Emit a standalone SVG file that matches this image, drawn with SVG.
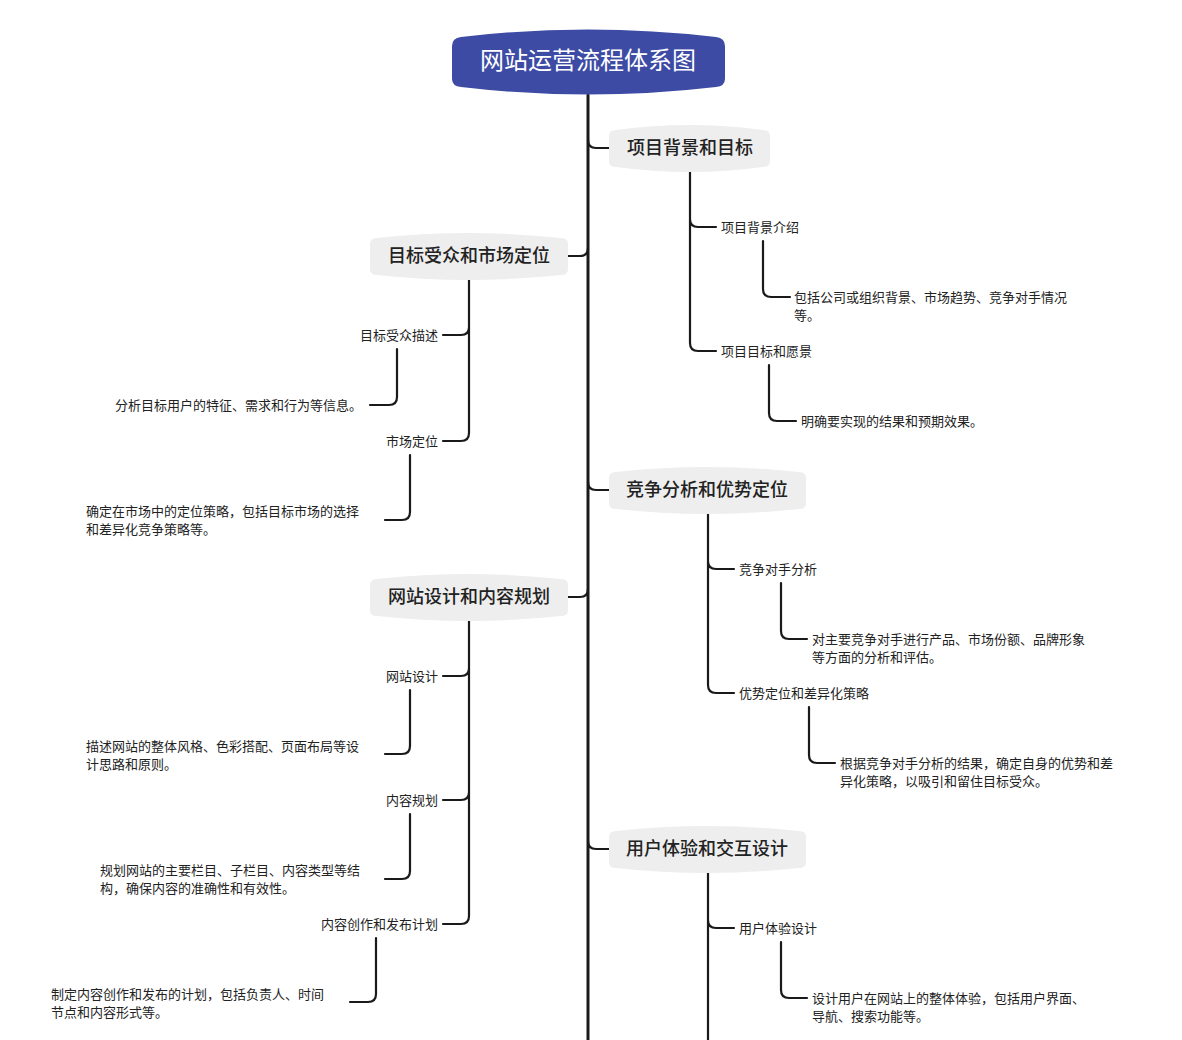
<svg xmlns="http://www.w3.org/2000/svg" width="1182" height="1040" viewBox="0 0 1182 1040">
<style>
.c{fill:none;stroke:#1a1a1a;stroke-width:2.2;stroke-linecap:round}
.t{stroke-width:3}
.n{fill:#eeeeee}
text{font-family:"Noto Sans CJK SC","Noto Sans",sans-serif;fill:#222}
.h{font-size:18px;font-weight:500;text-anchor:middle}
.s{font-size:13px}
.r{text-anchor:end}
</style>
<rect width="1182" height="1040" fill="#fff"/>
<g id="connectors">
<path class="c t" d="M588,95 V1040"/>
<path class="c" d="M588,140 Q588,148 596,148 H609"/>
<path class="c" d="M588,248 Q588,256 580,256 H568"/>
<path class="c" d="M588,482 Q588,490 596,490 H609"/>
<path class="c" d="M588,589 Q588,597 580,597 H568"/>
<path class="c" d="M588,841 Q588,849 596,849 H609"/>
<path class="c" d="M690,172 V343 Q690,351 698,351 H716 M690,219 Q690,227 698,227 H716"/>
<path class="c" d="M763,241 V289 Q763,297 771,297 H790"/>
<path class="c" d="M769,365 V413 Q769,421 777,421 H796"/>
<path class="c" d="M708,514 V685 Q708,693 716,693 H734 M708,561 Q708,569 716,569 H734"/>
<path class="c" d="M781,583 V631 Q781,639 789,639 H807"/>
<path class="c" d="M809,707 V755 Q809,763 817,763 H835"/>
<path class="c" d="M708,873 V1040 M708,920 Q708,928 716,928 H734"/>
<path class="c" d="M781,942 V990 Q781,998 789,998 H807"/>
<path class="c" d="M469,280 V433 Q469,441 461,441 H443 M469,327 Q469,335 461,335 H443"/>
<path class="c" d="M397,349 V397 Q397,405 389,405 H370"/>
<path class="c" d="M410,455 V512 Q410,520 402,520 H385"/>
<path class="c" d="M469,621 V916 Q469,924 461,924 H443 M469,668 Q469,676 461,676 H443 M469,792 Q469,800 461,800 H443"/>
<path class="c" d="M410,690 V746 Q410,754 402,754 H385"/>
<path class="c" d="M410,814 V871 Q410,879 402,879 H385"/>
<path class="c" d="M376,938 V994 Q376,1002 368,1002 H350"/>
</g>
<g id="root">
<path d="M452,46 Q452,38 461,37 Q588,22 716,37 Q725,38 725,46 L725,79 Q725,86 716,87 Q588,102 461,87 Q452,86 452,79 Z" fill="#3d4ba5"/>
<text x="588" y="69" style="font-size:24px;fill:#fff;text-anchor:middle">网站运营流程体系图</text>
</g>
<g id="n1"><path class="n" d="M609,136 Q609,130 616,130 Q690,120 763,130 Q770,130 770,136 V161 Q770,167 763,167 Q690,177 616,167 Q609,167 609,161 Z"/><text class="h" x="690" y="154">项目背景和目标</text></g>
<g id="n2"><path class="n" d="M370,244 Q370,238 377,238 Q469,228 561,238 Q568,238 568,244 V269 Q568,275 561,275 Q469,285 377,275 Q370,275 370,269 Z"/><text class="h" x="469" y="262">目标受众和市场定位</text></g>
<g id="n3"><path class="n" d="M609,478 Q609,472 616,472 Q707,462 799,472 Q806,472 806,478 V503 Q806,509 799,509 Q707,519 616,509 Q609,509 609,503 Z"/><text class="h" x="707" y="496">竞争分析和优势定位</text></g>
<g id="n4"><path class="n" d="M370,585 Q370,579 377,579 Q469,569 561,579 Q568,579 568,585 V610 Q568,616 561,616 Q469,626 377,616 Q370,616 370,610 Z"/><text class="h" x="469" y="603">网站设计和内容规划</text></g>
<g id="n5"><path class="n" d="M609,837 Q609,831 616,831 Q707,821 799,831 Q806,831 806,837 V862 Q806,868 799,868 Q707,878 616,868 Q609,868 609,862 Z"/><text class="h" x="707" y="855">用户体验和交互设计</text></g>
<g id="n1a"><text class="s" x="721" y="232">项目背景介绍</text></g>
<g id="n1a1"><text class="s" x="794" y="302">包括公司或组织背景、市场趋势、竞争对手情况</text><text class="s" x="794" y="320">等。</text></g>
<g id="n1b"><text class="s" x="721" y="356">项目目标和愿景</text></g>
<g id="n1b1"><text class="s" x="801" y="426">明确要实现的结果和预期效果。</text></g>
<g id="n2a"><text class="s r" x="438" y="340">目标受众描述</text></g>
<g id="n2a1"><text class="s r" x="362" y="410">分析目标用户的特征、需求和行为等信息。</text></g>
<g id="n2b"><text class="s r" x="438" y="446">市场定位</text></g>
<g id="n2b1"><text class="s" x="86" y="516">确定在市场中的定位策略，包括目标市场的选择</text><text class="s" x="86" y="534">和差异化竞争策略等。</text></g>
<g id="n3a"><text class="s" x="739" y="574">竞争对手分析</text></g>
<g id="n3a1"><text class="s" x="812" y="644">对主要竞争对手进行产品、市场份额、品牌形象</text><text class="s" x="812" y="662">等方面的分析和评估。</text></g>
<g id="n3b"><text class="s" x="739" y="698">优势定位和差异化策略</text></g>
<g id="n3b1"><text class="s" x="840" y="768">根据竞争对手分析的结果，确定自身的优势和差</text><text class="s" x="840" y="786">异化策略，以吸引和留住目标受众。</text></g>
<g id="n4a"><text class="s r" x="438" y="681">网站设计</text></g>
<g id="n4a1"><text class="s" x="86" y="751">描述网站的整体风格、色彩搭配、页面布局等设</text><text class="s" x="86" y="769">计思路和原则。</text></g>
<g id="n4b"><text class="s r" x="438" y="805">内容规划</text></g>
<g id="n4b1"><text class="s" x="100" y="875">规划网站的主要栏目、子栏目、内容类型等结</text><text class="s" x="100" y="893">构，确保内容的准确性和有效性。</text></g>
<g id="n4c"><text class="s r" x="438" y="929">内容创作和发布计划</text></g>
<g id="n4c1"><text class="s" x="51" y="999">制定内容创作和发布的计划，包括负责人、时间</text><text class="s" x="51" y="1017">节点和内容形式等。</text></g>
<g id="n5a"><text class="s" x="739" y="933">用户体验设计</text></g>
<g id="n5a1"><text class="s" x="812" y="1003">设计用户在网站上的整体体验，包括用户界面、</text><text class="s" x="812" y="1021">导航、搜索功能等。</text></g>
</svg>
